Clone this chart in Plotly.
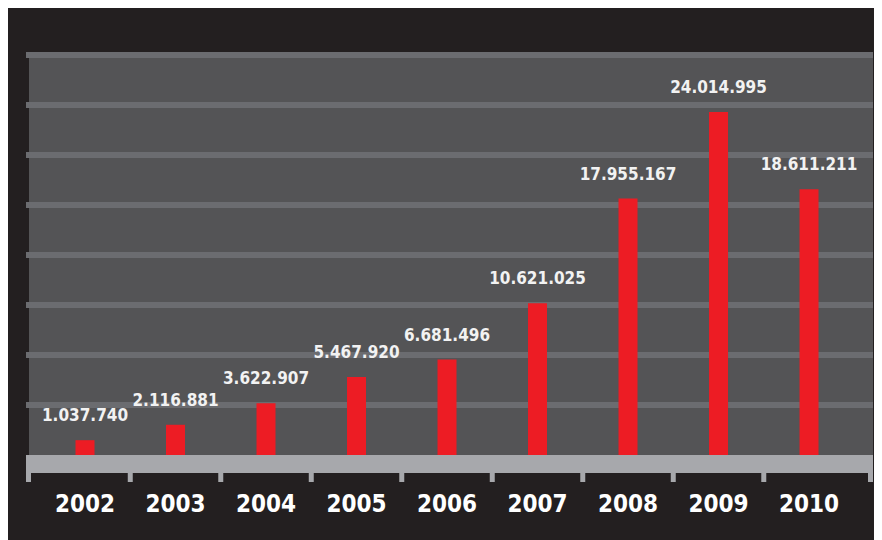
"""Annual totals bar chart, 2002-2010"""
import plotly.graph_objects as go

# data
years = ["2002", "2003", "2004", "2005", "2006", "2007", "2008", "2009", "2010"]
values = [1037740, 2116881, 3622907, 5467920, 6681496, 10621025, 17955167, 24014995, 18611211]
grid_vals = [3500000 * k for k in range(1, 9)]

labels = [f"{v:,}".replace(",", ".") for v in values]

# the page body adds an 8px white margin, which the reference also has
W, H = 874, 532
L, R, T, B = 18, 9, 44, 85
pw, ph = W - L - R, H - T - B

BLACK = "#231f20"
PLOT_BG = "#545456"
GRID = "#6b6c70"
AXIS_GRAY = "#a7a8ac"
RED = "#ed1c24"
FONT = "DejaVu Sans Condensed, DejaVu Sans, sans-serif"

fig = go.Figure()
fig.add_trace(go.Bar(
    x=years,
    y=values,
    width=0.21,
    marker_color=RED,
    marker_line_width=0,
    hoverinfo="skip",
))
# value labels above each bar (invisible marker pushes the text up a little)
fig.add_trace(go.Scatter(
    x=years,
    y=values,
    mode="markers+text",
    text=labels,
    textposition="top center",
    marker=dict(size=22, color="rgba(0,0,0,0)"),
    textfont=dict(family=FONT, size=17, color="#f2f2f2", weight="bold"),
    cliponaxis=False,
    hoverinfo="skip",
))


def px_y(p):
    return (H - B - p) / ph


def px_x(p):
    return (p - L) / pw


shapes = [
    # dark strip at the left of the plot panel (gridlines poke out over it)
    dict(type="rect", xref="x domain", yref="y domain", x0=0, x1=3 / pw,
         y0=0, y1=1, fillcolor=BLACK, line_width=0, layer="below"),
    # gray base bar
    dict(type="rect", xref="paper", yref="paper", x0=0, x1=1,
         y0=px_y(465), y1=0, fillcolor=AXIS_GRAY, line_width=0),
]
# ticks between categories and at both ends
tick_y0, tick_y1 = px_y(474), px_y(464)
for i in range(len(years) - 1):
    shapes.append(dict(type="line", xref="x", yref="paper", x0=i + 0.5, x1=i + 0.5,
                       y0=tick_y0, y1=tick_y1, line=dict(color=AXIS_GRAY, width=5)))
for xp in (px_x(20.5), px_x(862.5)):
    shapes.append(dict(type="line", xref="paper", yref="paper", x0=xp, x1=xp,
                       y0=tick_y0, y1=tick_y1, line=dict(color=AXIS_GRAY, width=5)))

fig.update_layout(
    width=W, height=H,
    margin=dict(l=L, r=R, t=T, b=B, pad=0),
    paper_bgcolor=BLACK,
    plot_bgcolor=PLOT_BG,
    showlegend=False,
    shapes=shapes,
    xaxis=dict(
        type="category",
        range=[-0.652, 8.707],
        showgrid=False, zeroline=False, showline=False,
        ticks="",
        ticklabelstandoff=32,
        tickfont=dict(family=FONT, size=24, color="white", weight="bold"),
        fixedrange=True,
    ),
    yaxis=dict(
        range=[0, 28000000 * (ph / 400)],
        tickvals=grid_vals,
        showticklabels=False,
        showgrid=True, gridcolor=GRID, gridwidth=6,
        zeroline=False, showline=False, ticks="",
        fixedrange=True,
    ),
)

fig.write_html("out.html")
